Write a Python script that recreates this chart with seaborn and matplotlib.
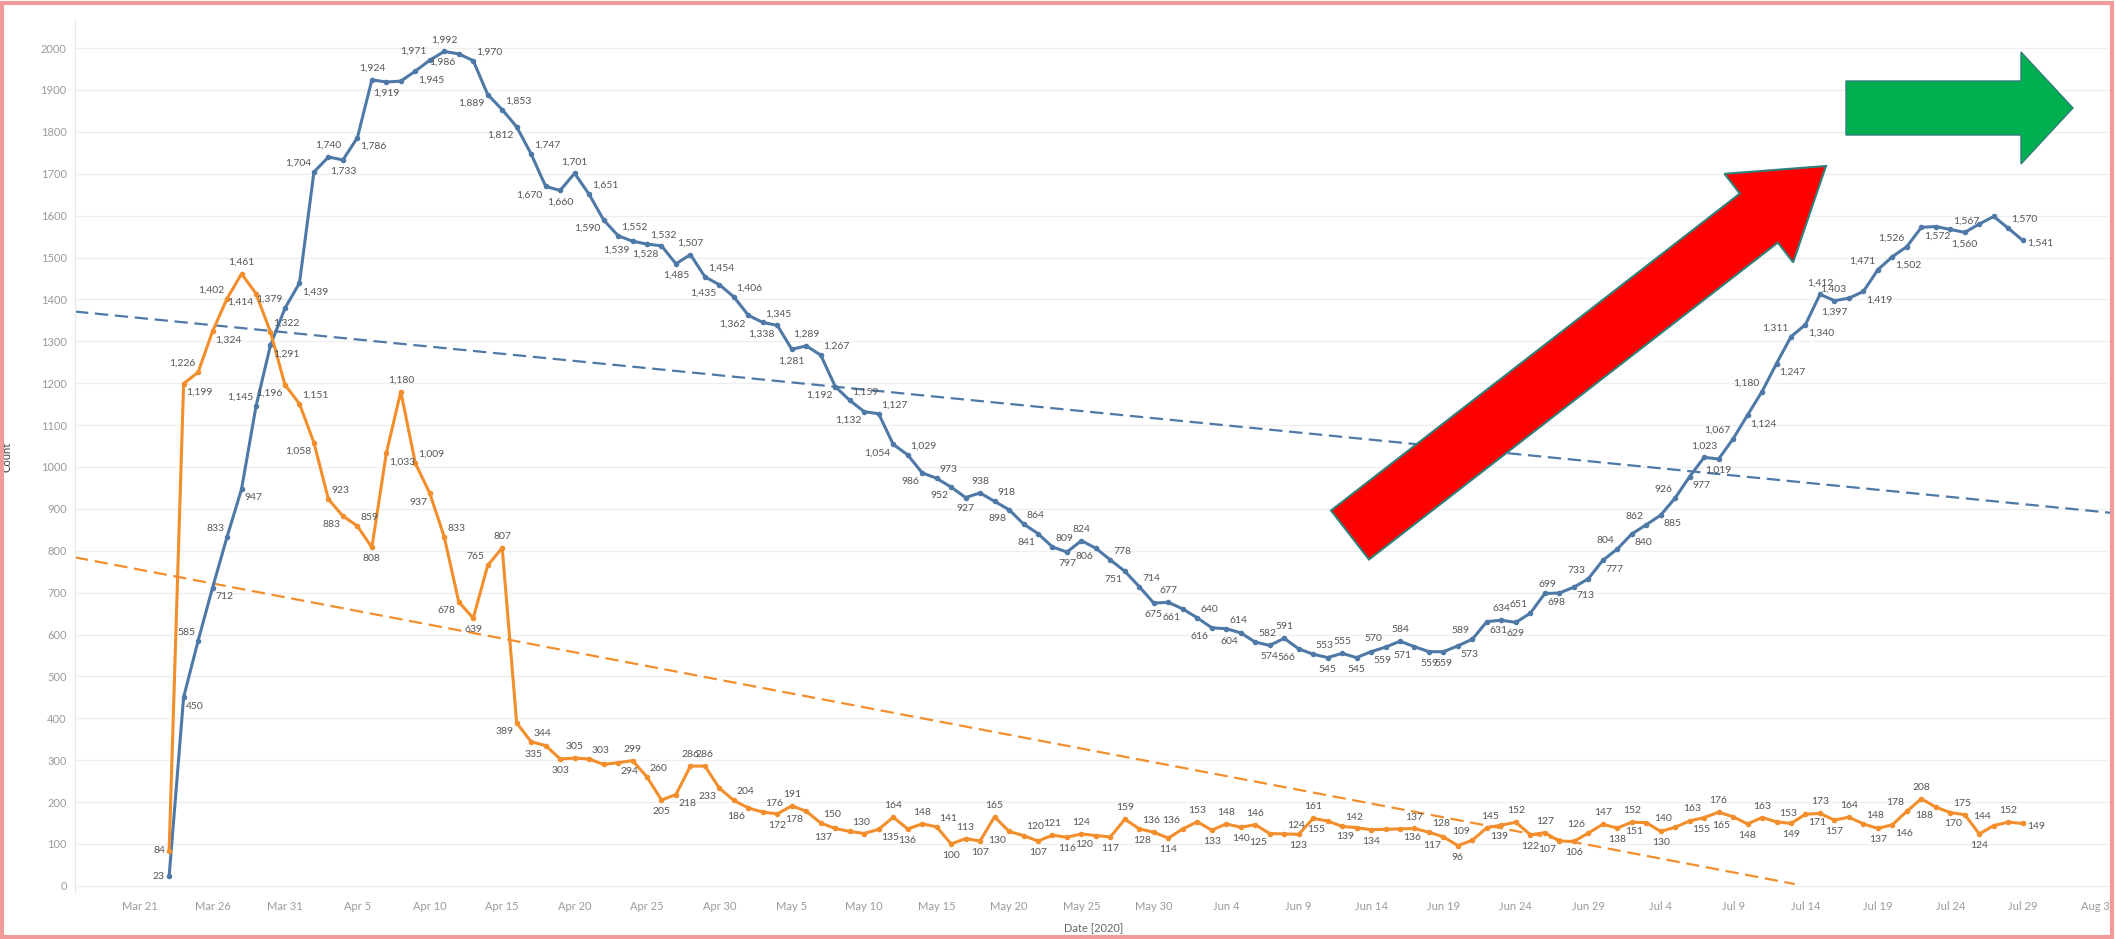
import numpy as np
import pandas as pd
import seaborn as sns
import matplotlib.pyplot as plt
import matplotlib.dates as mdates
from matplotlib.patches import Polygon, Rectangle

# daily counts, 2020-03-23 .. 2020-07-29
start_date = '2020-03-23'
blue_counts = [
    23, 450, 585, 712, 833, 947, 1145, 1291, 1379,
    1439, 1704, 1740, 1733, 1786, 1924, 1919, 1921, 1945, 1971, 1992, 1986, 1970, 1889, 1853,
    1812, 1747, 1670, 1660, 1701, 1651, 1590, 1552, 1539, 1532, 1528, 1485, 1507, 1454, 1435,
    1406, 1362, 1345, 1338, 1281, 1289, 1267, 1192, 1159, 1132, 1127, 1054, 1029, 986, 973, 952,
    927, 938, 918, 898, 864, 841, 809, 797, 824, 806, 778, 751, 714, 675, 677,
    661, 640, 616, 614, 604, 582, 574, 591, 566, 553, 545, 555, 545, 559, 570, 584, 571, 559,
    559, 573, 589, 631, 634, 629, 651, 698, 699, 713, 733, 777,
    804, 840, 862, 885, 926, 977, 1023, 1019, 1067, 1124, 1180, 1247, 1311, 1340, 1412, 1397,
    1403, 1419, 1471, 1502, 1526, 1572, 1574, 1567, 1560, 1580, 1598, 1570, 1541,
]
orange_counts = [
    84, 1199, 1226, 1324, 1402, 1461, 1414, 1322, 1196,
    1151, 1058, 923, 883, 859, 808, 1033, 1180, 1009, 937, 833, 678, 639, 765, 807,
    389, 344, 335, 303, 305, 303, 290, 294, 299, 260, 205, 218, 286, 286, 233,
    204, 186, 176, 172, 191, 178, 150, 137, 130, 125, 135, 164, 136, 148, 141, 100,
    113, 107, 165, 130, 120, 107, 121, 116, 124, 120, 117, 159, 136, 128, 114,
    136, 153, 133, 148, 140, 146, 125, 124, 123, 161, 155, 142, 139, 134, 135, 136, 137, 128,
    117, 96, 109, 139, 145, 152, 122, 127, 107, 106, 126, 147,
    138, 152, 151, 130, 140, 155, 163, 176, 165, 148, 163, 153, 149, 171, 173, 157,
    164, 148, 137, 146, 178, 208, 188, 175, 170, 124, 144, 152, 149,
]
# points whose labels Tableau hid
blue_hidden = ['2020-04-08', '2020-07-23', '2020-07-26', '2020-07-27']
orange_hidden = ['2020-04-22', '2020-05-10', '2020-06-15']

tick_dates = pd.date_range('2020-03-21', '2020-08-03', freq='5D')
y_ticks = list(range(0, 2001, 100))

dates = pd.date_range(start_date, periods=len(blue_counts), freq='D')
df = pd.concat([
    pd.DataFrame({'Date': dates, 'Count': blue_counts, 'series': 'blue'}),
    pd.DataFrame({'Date': dates, 'Count': orange_counts, 'series': 'orange'}),
])
colors = {'blue': '#4e79a7', 'orange': '#f28e2b'}

sns.set_style('white')
plt.rcParams['font.family'] = ['Lato', 'DejaVu Sans']

W, H = 2116, 939
fig = plt.figure(figsize=(W / 100, H / 100), dpi=100)
ax = fig.add_axes([75 / W, 1 - 893 / H, (2112 - 75) / W, (893 - 20) / H])

x_left = pd.Timestamp('2020-03-16 12:00')
x_right = pd.Timestamp('2020-08-04 04:00')

# linear trend lines over the full axis
xs = np.linspace(mdates.date2num(x_left), mdates.date2num(x_right), 200)
for name, vals in [('blue', blue_counts), ('orange', orange_counts)]:
    k, b = np.polyfit(mdates.date2num(dates), vals, 1)
    ys = k * xs + b
    keep = ys >= 0
    ax.plot(mdates.num2date(xs[keep]), ys[keep], color=colors[name], lw=1.6,
            ls=(0, (6, 3)), zorder=2)

sns.lineplot(data=df, x='Date', y='Count', hue='series', palette=colors, marker='o',
             markersize=4, markeredgewidth=0, linewidth=2.2, legend=False, ax=ax, zorder=3)


def add_labels(vals, hidden, color='#555555'):
    n = len(vals)
    hidden = set(pd.to_datetime(hidden))
    for i, (d, v) in enumerate(zip(dates, vals)):
        if d in hidden:
            continue
        if i == 0:
            off, ha, va = (-3, 0), 'right', 'center'
        elif i == n - 1:
            off, ha, va = (3, -2), 'left', 'center'
        else:
            p, q = vals[i - 1], vals[i + 1]
            if v >= p and v >= q:
                off, ha, va = (0, 5), 'center', 'bottom'
            elif v <= p and v <= q:
                off, ha, va = (0, -5), 'center', 'top'
            elif p > v > q:  # falling: above-right / below-left
                if i % 2:
                    off, ha, va = (2, 3), 'left', 'bottom'
                else:
                    off, ha, va = (-2, -3), 'right', 'top'
            else:  # rising: above-left / below-right
                if i % 2 == 0:
                    off, ha, va = (-2, 3), 'right', 'bottom'
                else:
                    off, ha, va = (2, -3), 'left', 'top'
        ax.annotate(f'{v:,}', (d, v), xytext=off, textcoords='offset points',
                    ha=ha, va=va, fontsize=7.5, color=color, zorder=4)


add_labels(blue_counts, blue_hidden)
add_labels(orange_counts, orange_hidden)

ax.set_xlim(x_left, x_right)
ax.set_ylim(-17, 2067)
ax.set_yticks(y_ticks)
ax.set_yticklabels([str(t) for t in y_ticks])
ax.set_xticks(tick_dates)
ax.set_xticklabels([d.strftime('%b ') + str(d.day) for d in tick_dates])
ax.tick_params(axis='both', labelsize=8, colors='#9a9a9a', length=0, pad=6)
ax.grid(axis='y', color='#efefef', lw=0.9)
ax.set_axisbelow(True)
for s in ['top', 'right', 'bottom']:
    ax.spines[s].set_visible(False)
ax.spines['left'].set_color('#e8e8e8')
ax.set_xlabel('Date [2020]', fontsize=8, color='#666666', labelpad=8)
ax.set_ylabel('Count', fontsize=8, color='#444444', labelpad=20)


def to_fig(pts):
    return [(x / W, 1 - y / H) for x, y in pts]


def block_arrow(tail, tip, w, hw, hl):
    tail, tip = np.array(tail, float), np.array(tip, float)
    d = tip - tail
    L = np.hypot(*d)
    u = d / L
    nrm = np.array([-u[1], u[0]])
    base = tip - u * hl
    return [tail + nrm * w / 2, base + nrm * w / 2, base + nrm * hw / 2, tip,
            base - nrm * hw / 2, base - nrm * w / 2, tail - nrm * w / 2]


red = block_arrow((1350, 535), (1826, 166), 62, 112, 85)
fig.patches.append(Polygon(to_fig(red), closed=True, transform=fig.transFigure,
                           facecolor='#ff0000', edgecolor='#2f7f7a', lw=1.5, zorder=5))
green = block_arrow((1846, 108), (2073, 108), 54, 112, 52)
fig.patches.append(Polygon(to_fig(green), closed=True, transform=fig.transFigure,
                           facecolor='#00b050', edgecolor='#2f7f7a', lw=1.0, zorder=5))

fig.patches.append(Rectangle((0.001, 0.002), 0.997, 0.995, transform=fig.transFigure,
                             fill=False, edgecolor='#f09a9a', lw=3))

fig.savefig('out.png', dpi=100, facecolor='white')
